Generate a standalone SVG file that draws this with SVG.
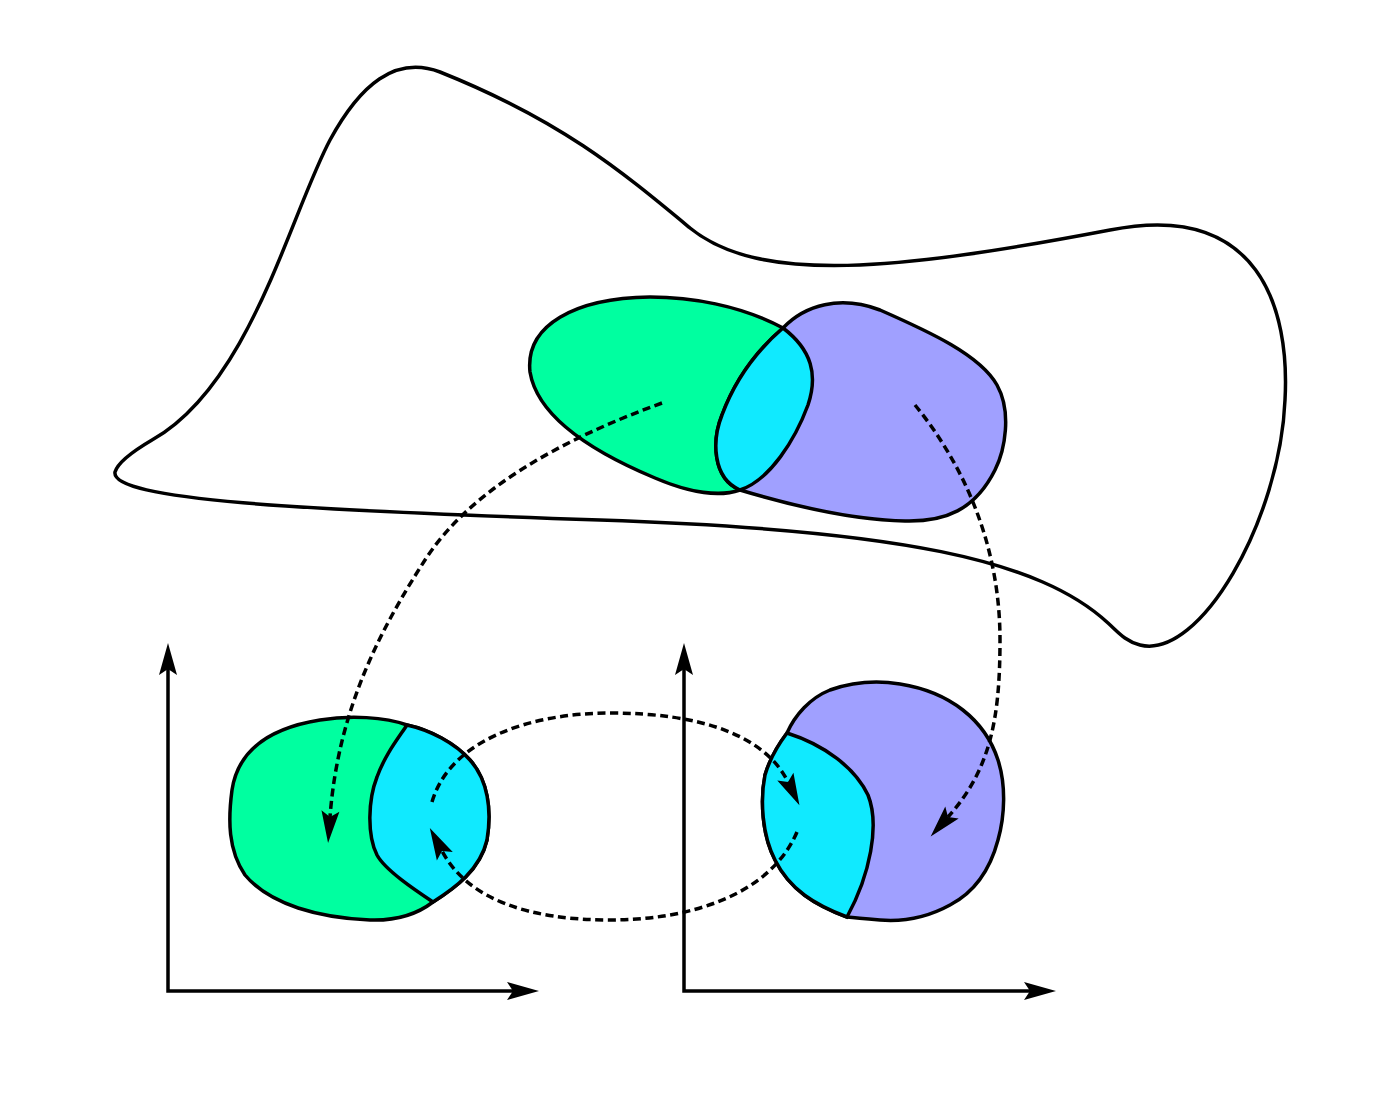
<svg xmlns="http://www.w3.org/2000/svg" width="1400" height="1120" viewBox="0 0 1400 1120">
<style>
.ln{fill:none;stroke:#000;stroke-width:3.5;stroke-linejoin:round}
.g{fill:#00FFA0;stroke:#000;stroke-width:3.5}
.p{fill:#A0A0FF;stroke:#000;stroke-width:3.5}
.c{fill:#10EAFF;stroke:#000;stroke-width:3.5}
.ax{fill:none;stroke:#000;stroke-width:3.5}
.d{fill:none;stroke:#000;stroke-width:3.5;stroke-dasharray:8 4.5}
</style>
<defs>
<marker id="ah" viewBox="-8 -11 36 22" refX="0" refY="0" markerWidth="36" markerHeight="22" markerUnits="userSpaceOnUse" orient="auto-start-reverse">
<path d="M26,0 L-6,-9 L0,0 L-6,9 Z" fill="#000"/>
</marker>
</defs>
<rect width="1400" height="1120" fill="#fff"/>
<g id="manifold">
<path class="ln" d="M152,440 C250,385 290,215 330,140 C360,85 395,55 440,72 C560,120 620,170 690,228 C760,285 900,270 1110,230 C1260,200 1290,310 1285,400 C1280,520 1200,660 1140,645 C1125,641 1118,632 1108,623 C1040,560 900,530 600,520 C300,510 110,500 115,472 C118,462 135,450 152,440 Z"/>
</g>
<g id="top-green">
<path class="g" d="M783,328 C740,305 690,297 650,297 C575,298 525,325 530,372 C538,420 600,455 655,478 C690,493 720,497 740,490 C770,480 795,440 808,405 C818,375 812,350 783,328 Z"/>
</g>
<g id="top-purple">
<path class="p" d="M783,328 C805,305 840,295 880,310 C930,332 980,355 997,385 C1012,412 1005,450 995,470 C975,510 945,522 905,521 C850,520 790,505 740,490 C712,478 712,440 722,415 C735,380 755,352 783,328 Z"/>
</g>
<g id="top-overlap">
<path class="c" d="M783,328 C812,350 818,375 808,405 C795,440 770,480 740,490 C712,478 712,440 722,415 C735,380 755,352 783,328 Z"/>
</g>
<g id="axes-left">
<path class="ax" d="M168,669 V991 H513" marker-start="url(#ah)" marker-end="url(#ah)"/>
</g>
<g id="axes-right">
<path class="ax" d="M684,669 V991 H1030" marker-start="url(#ah)" marker-end="url(#ah)"/>
</g>
<g id="chart-left">
<path class="g" d="M407,725 C385,717 350,715 320,720 C270,728 238,750 232,790 C228,820 228,850 245,875 C270,905 320,918 370,920 C400,921 420,912 433,902 C455,888 480,870 487,840 C492,810 488,780 470,760 C455,743 430,730 407,725 Z"/>
<path class="c" d="M407,725 C430,730 455,743 470,760 C488,780 492,810 487,840 C480,870 455,888 433,902 C415,890 385,870 377,855 C367,835 368,800 377,777 C385,755 397,740 407,725 Z"/>
</g>
<g id="chart-right">
<path class="p" d="M787,733 C795,715 810,698 830,690 C850,683 875,680 900,684 C950,692 985,720 998,760 C1006,785 1005,815 998,840 C990,870 975,892 950,905 C930,916 905,922 880,920 C868,919 856,918 847,917 C815,905 790,890 775,860 C762,835 760,800 765,775 C770,758 778,745 787,733 Z"/>
<path class="c" d="M787,733 C825,745 855,768 868,795 C880,825 870,875 847,917 C815,905 790,890 775,860 C762,835 760,800 765,775 C770,758 778,745 787,733 Z"/>
</g>
<g id="connectors">
<path class="d" d="M662,403 C560,440 470,490 425,560 C380,630 338,710 330,817" marker-end="url(#ah)"/>
<path class="d" d="M915,405 C960,460 1000,540 1000,640 C1000,720 990,770 948,817" marker-end="url(#ah)"/>
<path class="d" d="M432,802 C450,740 530,713 610,713 C700,713 765,735 788,782" marker-end="url(#ah)"/>
<path class="d" d="M797,832 C770,895 690,920 610,920 C530,920 468,900 442,851" marker-end="url(#ah)"/>
</g>
</svg>
